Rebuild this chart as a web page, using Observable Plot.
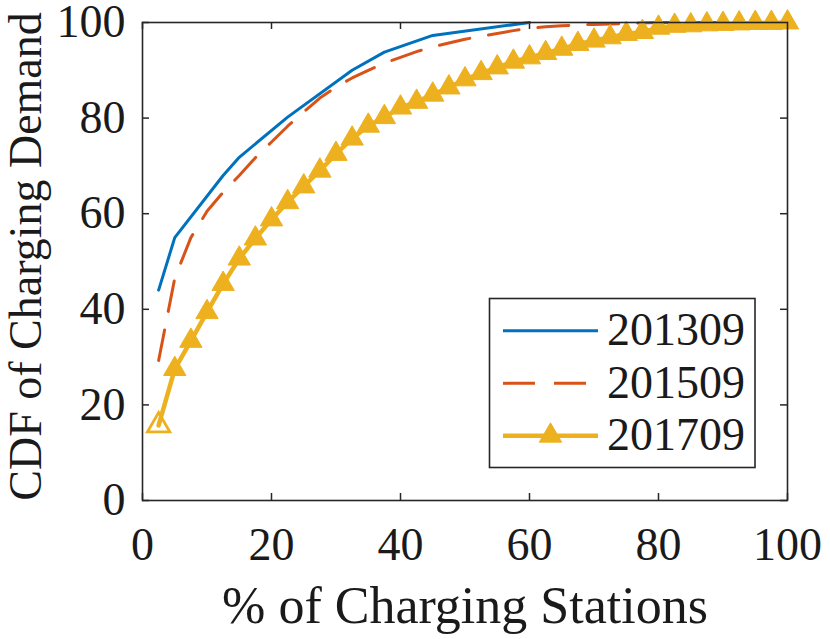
<!DOCTYPE html>
<html>
<head>
<meta charset="utf-8">
<script src="https://cdn.jsdelivr.net/npm/d3@7"></script>
<script src="https://cdn.jsdelivr.net/npm/@observablehq/plot@0.6"></script>
<style>
  html, body { margin: 0; padding: 0; background: #fff; }
  svg { display: block; }
</style>
</head>
<body>
<div id="chart"></div>
<script>
// ---- data ----
const seriesNames = ["201309", "201509", "201709"];
const seriesColors = ["#0072BD", "#D95319", "#EDB120"];

const x2013 = [2.5, 5, 12.5, 15, 22.5, 32.5, 37.5, 45, 60];
const y2013 = [44, 55, 68, 71.8, 80.2, 90, 93.8, 97.3, 100];

const x2015 = [2.5, 5, 7.5, 10, 12.5, 15, 17.5, 20, 22.5, 25, 27.5, 30, 32.5, 35, 37.5, 40,
  42.5, 45, 47.5, 50, 52.5, 55, 57.5, 60, 62.5, 65, 67.5, 70, 72.5, 75, 77.5, 80,
  82.5, 85, 87.5, 90, 92.5, 95, 97.5, 100];
const y2015 = [29.3, 46.5, 55, 60.5, 64.5, 68, 71.7, 75, 78.3, 81.3, 84.2, 86.5, 88.4, 90, 91.5, 92.7,
  93.9, 94.9, 95.7, 96.5, 97.1, 97.7, 98.3, 98.8, 99.1, 99.3, 99.5, 99.6, 99.7, 99.8, 99.9, 100,
  100, 100, 100, 100, 100, 100, 100, 100];

const x2017 = [2.5, 5, 7.5, 10, 12.5, 15, 17.5, 20, 22.5, 25, 27.5, 30, 32.5, 35, 37.5, 40,
  42.5, 45, 47.5, 50, 52.5, 55, 57.5, 60, 62.5, 65, 67.5, 70, 72.5, 75, 77.5, 80,
  82.5, 85, 87.5, 90, 92.5, 95, 97.5, 100];
const y2017 = [15.7, 27.5, 33.4, 39.4, 45.3, 50.6, 54.8, 58.8, 62.4, 65.7, 69, 72.5, 75.7, 78.4, 80.2, 82.2,
  83.4, 84.9, 86.4, 88.1, 89.4, 90.6, 91.8, 92.7, 93.6, 94.5, 95.5, 96.2, 96.9, 97.6, 98, 98.9,
  99.3, 99.4, 99.6, 99.7, 99.8, 99.9, 99.9, 100];

const xTicks = [0, 20, 40, 60, 80, 100];
const yTicks = [0, 20, 40, 60, 80, 100];
const xLabel = "% of Charging Stations";
const yLabel = "CDF of Charging Demand";

// ---- build tables ----
const d2013 = x2013.map((x, i) => ({x, y: y2013[i]}));
const d2015 = x2015.map((x, i) => ({x, y: y2015[i]}));
const d2017 = x2017.map((x, i) => ({x, y: y2017[i]}));

const W = 830, H = 639;
const mL = 142, mR = 43, mT = 22, mB = 139;
const innerH = H - mT - mB;
const innerW = W - mL - mR;
const tickLen = 7;
const font = "'Liberation Serif', 'Times New Roman', serif";
const axisColor = "#262626";
const triR = 8.3;

const plot = Plot.plot({
  width: W,
  height: H,
  marginLeft: mL,
  marginRight: mR,
  marginTop: mT,
  marginBottom: mB,
  style: {fontFamily: font, fontSize: "46px", color: "#000", background: "#fff"},
  x: {domain: [0, 100]},
  y: {domain: [0, 100]},
  marks: [
    Plot.axisX({ticks: xTicks, tickSize: 0, tickPadding: 27, fontSize: 46, label: null, fill: "#1a1a1a"}),
    Plot.axisY({ticks: yTicks, tickSize: 0, tickPadding: 17, fontSize: 46, label: null, fill: "#1a1a1a"}),
    // inward ticks on all four sides
    Plot.tickX(xTicks, {x: d => d, insetTop: innerH - tickLen, stroke: axisColor, strokeWidth: 1.5}),
    Plot.tickX(xTicks, {x: d => d, insetBottom: innerH - tickLen, stroke: axisColor, strokeWidth: 1.5}),
    Plot.tickY(yTicks, {y: d => d, insetRight: innerW - tickLen, stroke: axisColor, strokeWidth: 1.5}),
    Plot.tickY(yTicks, {y: d => d, insetLeft: innerW - tickLen, stroke: axisColor, strokeWidth: 1.5}),
    // series
    Plot.line(d2013, {x: "x", y: "y", stroke: seriesColors[0], strokeWidth: 3}),
    Plot.line(d2015, {x: "x", y: "y", stroke: seriesColors[1], strokeWidth: 3, strokeDasharray: "31,19"}),
    Plot.line(d2017, {x: "x", y: "y", stroke: seriesColors[2], strokeWidth: 4.5}),
    Plot.dot(d2017.slice(1), {x: "x", y: "y", symbol: "triangle", r: triR, fill: seriesColors[2], stroke: seriesColors[2], strokeWidth: 1, clip: false}),
    Plot.dot(d2017.slice(0, 1), {x: "x", y: "y", symbol: "triangle", r: triR, fill: "none", stroke: seriesColors[2], strokeWidth: 2.8}),
    Plot.frame({stroke: axisColor, strokeWidth: 1.6}),
    // axis titles
    Plot.text([xLabel], {frameAnchor: "bottom", text: d => d, dy: 106, fontSize: 52, textAnchor: "middle", lineAnchor: "middle", fill: "#1a1a1a"}),
    Plot.text([yLabel], {frameAnchor: "left", text: d => d, dx: -116, dy: -5, rotate: -90, fontSize: 46, textAnchor: "middle", lineAnchor: "middle", fill: "#1a1a1a"})
  ]
});

document.getElementById("chart").appendChild(plot);

// ---- legend (drawn in pixel layout inside the same svg) ----
const svg = d3.select(plot);
const lg = svg.append("g").attr("font-family", font).attr("font-size", 46).attr("text-anchor", "start");
const box = {x: 489.5, y: 298.5, w: 265.5, h: 169};
lg.append("rect").attr("x", box.x).attr("y", box.y).attr("width", box.w).attr("height", box.h)
  .attr("fill", "#fff").attr("stroke", axisColor).attr("stroke-width", 1.6);
const rowY = [330.7, 383.3, 435.7];
const lineX0 = 503, lineX1 = 598;
seriesNames.forEach((name, i) => {
  const g = lg.append("g");
  const ln = g.append("line").attr("x1", lineX0).attr("x2", lineX1).attr("y1", rowY[i]).attr("y2", rowY[i])
    .attr("stroke", seriesColors[i]);
  if (i === 0) ln.attr("stroke-width", 3);
  if (i === 1) ln.attr("stroke-width", 3).attr("stroke-dasharray", "32,19");
  if (i === 2) {
    ln.attr("stroke-width", 4.5);
    g.append("path").attr("d", d3.symbol(d3.symbolTriangle, Math.PI * triR * triR)())
      .attr("transform", `translate(${(lineX0 + lineX1) / 2},${rowY[i]})`)
      .attr("fill", seriesColors[i]).attr("stroke", seriesColors[i]);
  }
  g.append("text").attr("x", 607).attr("y", rowY[i]).attr("dy", "0.32em").attr("fill", "#1a1a1a")
    .attr("text-anchor", "start").text(name);
});
</script>
</body>
</html>
